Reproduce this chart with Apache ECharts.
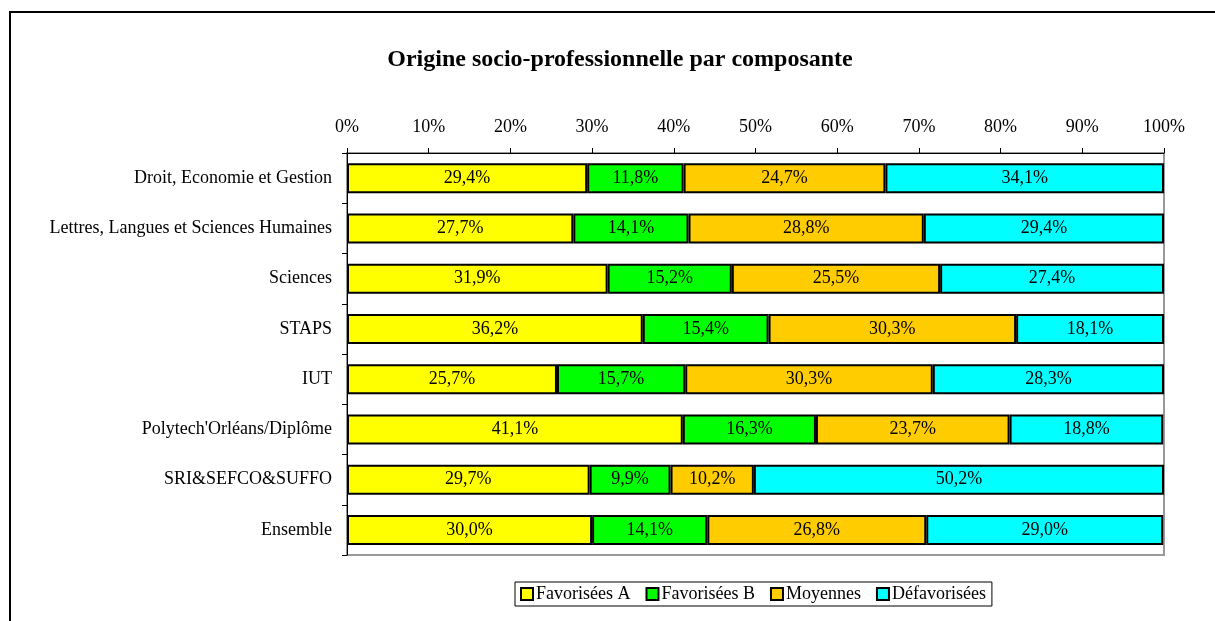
<!DOCTYPE html>
<html>
<head>
<meta charset="utf-8">
<script src="https://cdn.jsdelivr.net/npm/echarts@6/dist/echarts.min.js"></script>
<style>
  html, body { margin: 0; padding: 0; background: #fff; }
  #chart { width: 1215px; height: 621px; }
</style>
</head>
<body>
<div id="chart"></div>
<script>
var categories = ['Droit, Economie et Gestion', 'Lettres, Langues et Sciences Humaines', 'Sciences', 'STAPS', 'IUT', "Polytech'Orléans/Diplôme", 'SRI&SEFCO&SUFFO', 'Ensemble']
var favA = [29.4, 27.7, 31.9, 36.2, 25.7, 41.1, 29.7, 30.0]
var favB = [11.8, 14.1, 15.2, 15.4, 15.7, 16.3, 9.9, 14.1]
var moyennes = [24.7, 28.8, 25.5, 30.3, 30.3, 23.7, 10.2, 26.8]
var defav = [34.1, 29.4, 27.4, 18.1, 28.3, 18.8, 50.2, 29.0]
var seriesNames = ['Favorisées A', 'Favorisées B', 'Moyennes', 'Défavorisées']
var colors = ['#FFFF00', '#00FF00', '#FFCC00', '#00FFFF']

var font = 'Liberation Serif'
var myChart = echarts.init(document.getElementById('chart'))

function makeSeries(name, data, color){
    return {
        name: name,
        type: 'bar',
        stack: 'total',
        barWidth: 30,
        data: data,
        itemStyle: { color: color, borderColor: '#000', borderWidth: 2 },
        label: {
            show: true,
            position: 'inside',
            color: '#000',
            fontFamily: font,
            fontSize: 18,
            formatter: function(p){ return p.value.toFixed(1).replace('.', ',') + '%' }
        }
    }
}

myChart.setOption({
    animation: false,
    title: {
        text: 'Origine socio-professionnelle par composante',
        left: 615,
        textAlign: 'center',
        top: 43,
        textStyle: { fontFamily: font, fontSize: 24, fontWeight: 'bold', color: '#000' }
    },
    graphic: [{
        type: 'rect',
        shape: { x: 10, y: 12, width: 1230, height: 640 },
        style: { fill: 'none', stroke: '#000', lineWidth: 2 }
    }],
    legend: {
        data: seriesNames,
        left: 515,
        top: 582,
        itemWidth: 12,
        itemHeight: 12,
        itemGap: 15,
        padding: [3, 6, 3, 5],
        borderColor: '#000',
        borderWidth: 1,
        textStyle: { fontFamily: font, fontSize: 18, color: '#000', padding: [0, 0, 0, -2] },
        icon: 'rect'
    },
    grid: {
        left: 347,
        right: 51,
        top: 153,
        bottom: 66,
        show: true,
        borderColor: '#999',
        borderWidth: 2
    },
    xAxis: {
        type: 'value',
        position: 'top',
        min: 0,
        max: 100,
        interval: 10,
        axisLine: { show: true, lineStyle: { color: '#000', width: 1 } },
        axisTick: { show: true, length: 5, lineStyle: { color: '#000' } },
        splitLine: { show: false },
        axisLabel: {
            margin: 17,
            color: '#000',
            fontFamily: font,
            fontSize: 18,
            formatter: '{value}%'
        }
    },
    yAxis: {
        type: 'category',
        inverse: true,
        data: categories,
        axisLine: { show: true, lineStyle: { color: '#000', width: 1 } },
        axisTick: { show: true, length: 5, lineStyle: { color: '#000' } },
        axisLabel: { margin: 15, color: '#000', fontFamily: font, fontSize: 18 }
    },
    series: [
        makeSeries(seriesNames[0], favA, colors[0]),
        makeSeries(seriesNames[1], favB, colors[1]),
        makeSeries(seriesNames[2], moyennes, colors[2]),
        makeSeries(seriesNames[3], defav, colors[3])
    ]
})
</script>
</body>
</html>
